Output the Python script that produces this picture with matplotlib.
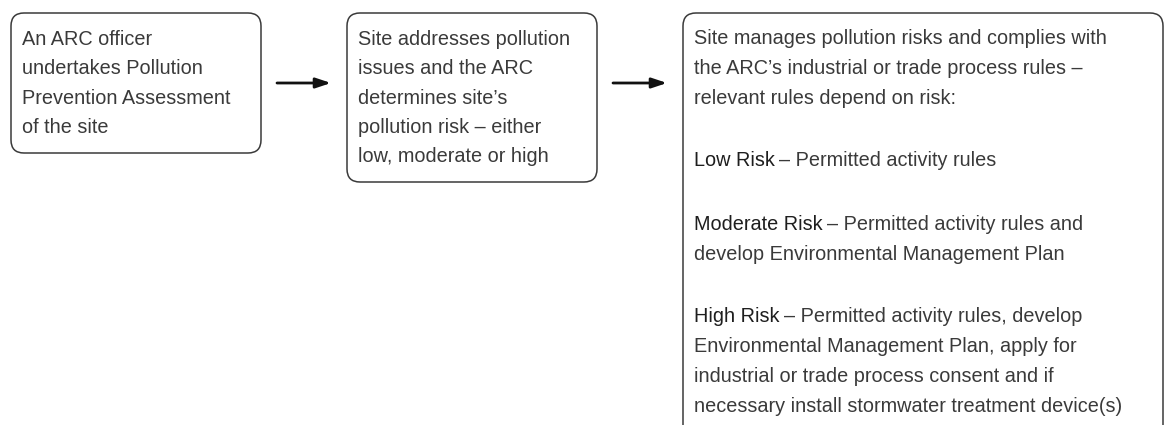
import matplotlib.pyplot as plt
from matplotlib.patches import FancyBboxPatch

# Flow steps (text lines as wrapped in the figure)
step1_lines = ["An ARC officer", "undertakes Pollution",
               "Prevention Assessment", "of the site"]
step2_lines = ["Site addresses pollution", "issues and the ARC",
               "determines site\u2019s", "pollution risk \u2013 either",
               "low, moderate or high"]
step3_intro = ["Site manages pollution risks and complies with",
               "the ARC\u2019s industrial or trade process rules \u2013",
               "relevant rules depend on risk:"]
risk_labels = ["Low Risk", "Moderate Risk", "High Risk"]
risk_rules = [
    ["\u2013 Permitted activity rules"],
    ["\u2013 Permitted activity rules and",
     "develop Environmental Management Plan"],
    ["\u2013 Permitted activity rules, develop",
     "Environmental Management Plan, apply for",
     "industrial or trade process consent and if",
     "necessary install stormwater treatment device(s)"],
]

W, H = 1167, 425
TEXT_C = "#3a3a3a"
EDGE_C = "#3a3a3a"
FS = 14.3
LINE_H = 29.5      # small boxes
LINE_H3 = 30.0     # big box
PARA_GAP = 63.0
FONT = "Liberation Sans"

fig = plt.figure(figsize=(W / 100, H / 100), dpi=100)
ax = fig.add_axes([0, 0, 1, 1])
ax.set_xlim(0, W)
ax.set_ylim(H, 0)
ax.axis("off")


def box(x0, y0, x1, y1):
    p = FancyBboxPatch((x0, y0), x1 - x0, y1 - y0,
                       boxstyle="round,pad=0,rounding_size=13",
                       fc="white", ec=EDGE_C, lw=1.1)
    ax.add_patch(p)


def arrow(x0, x1, y):
    ax.annotate("", xy=(x1, y), xytext=(x0, y),
                arrowprops=dict(arrowstyle="-|>,head_length=0.9,head_width=0.3",
                                color="#111111", lw=2.0, shrinkA=0, shrinkB=0))


def lines(x, y, items, step):
    for i, s in enumerate(items):
        ax.text(x, y + i * step, s, fontsize=FS, color=TEXT_C,
                family=FONT, va="center", ha="left")


# boxes
box(11, 13, 261, 153)
box(347, 13, 597, 182)
box(683, 13, 1163, 445)

arrow(277, 331, 83)
arrow(613, 667, 83)

lines(22, 39, step1_lines, LINE_H)
lines(358, 39, step2_lines, LINE_H)
lines(694, 38, step3_intro, LINE_H3)

fig.canvas.draw()
renderer = fig.canvas.get_renderer()
inv = ax.transData.inverted()

y = 38 + 2 * LINE_H3 + PARA_GAP
for label, rule in zip(risk_labels, risk_rules):
    t = ax.text(694, y, label, fontsize=FS, color="#1e1e1e",
                family=FONT, fontweight="medium", va="center", ha="left")
    bb = t.get_window_extent(renderer)
    x_end = inv.transform((bb.x1, bb.y0))[0]
    ax.text(x_end + 4, y, rule[0], fontsize=FS, color=TEXT_C,
            family=FONT, va="center", ha="left")
    for j, s in enumerate(rule[1:], start=1):
        ax.text(694, y + j * LINE_H3, s, fontsize=FS, color=TEXT_C,
                family=FONT, va="center", ha="left")
    y += (len(rule) - 1) * LINE_H3 + PARA_GAP

fig.savefig("out.png", dpi=100, facecolor="white")
